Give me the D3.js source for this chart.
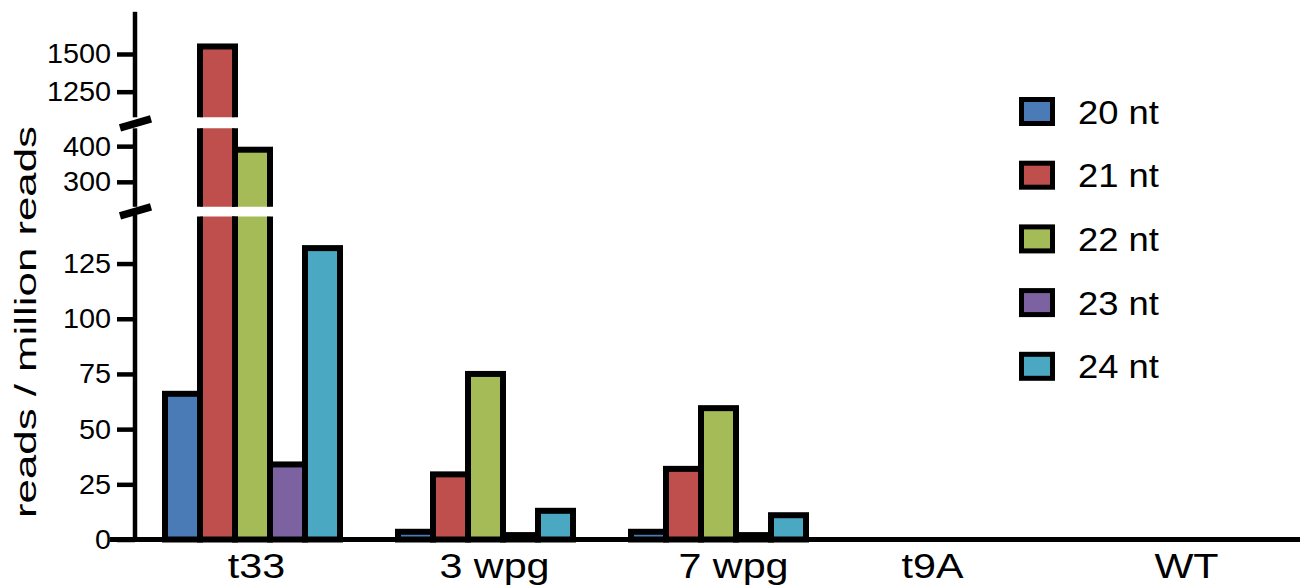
<!DOCTYPE html>
<html>
<head>
<meta charset="utf-8">
<script src="https://cdn.jsdelivr.net/npm/d3@7/dist/d3.min.js"></script>
<style>
  html, body { margin: 0; padding: 0; background: #fff; }
  svg { display: block; }
  text { font-family: "Liberation Sans", Arial, Helvetica, sans-serif; fill: #000; }
</style>
</head>
<body>
<svg id="chart" width="1306" height="587"></svg>
<script>
// ---------- data ----------
const categories = ["t33", "3 wpg", "7 wpg", "t9A", "WT"];
const seriesNames = ["20 nt", "21 nt", "22 nt", "23 nt", "24 nt"];
const nt20 = [66, 3.5, 3.5, 0, 0];
const nt21 = [1550, 29.5, 32, 0, 0];
const nt22 = [390, 75, 59.5, 0, 0];
const nt23 = [34, 2, 2, 0, 0];
const nt24 = [132, 13, 11, 0, 0];
const seriesColors = ["#4a7bb7", "#be4f4c", "#a4bb57", "#7d62a1", "#4aa8c2"];
const ticksLow = [0, 25, 50, 75, 100, 125];
const ticksMid = [300, 400];
const ticksHigh = [1250, 1500];
const yTitle = "reads / million reads";

const seriesValues = [nt20, nt21, nt22, nt23, nt24];

// ---------- layout ----------
const svg = d3.select("#chart");
const axisX = 135;
const baseY = 539.5;
const labelShift = [4, 9, 15, -19, 2];   // small horizontal nudges of category labels (layout)

// three y segments (broken axis)
const segments = [
  { domain: [0, 147],     range: [baseY, 215],   clip: [216.5, 560],   ticks: ticksLow },
  { domain: [230, 450],   range: [206.8, 128.3], clip: [128.3, 206.8], ticks: ticksMid },
  { domain: [1080, 1780], range: [117.3, 11.8],  clip: [0, 117.3],     ticks: ticksHigh }
];
segments.forEach(s => { s.y = d3.scaleLinear().domain(s.domain).range(s.range); });

const x0 = d3.scaleBand().domain(categories).range([136, 1301]).paddingInner(0).paddingOuter(0);
const x1 = d3.scaleBand().domain(seriesNames).range([-87.5, 87.5]).padding(0);

const defs = svg.append("defs");
segments.forEach((s, i) => {
  defs.append("clipPath").attr("id", "clip" + i)
    .append("rect").attr("x", 0).attr("width", 1306)
    .attr("y", s.clip[0]).attr("height", s.clip[1] - s.clip[0]);
});

// flatten bar data
const bars = [];
categories.forEach((c, ci) => {
  seriesNames.forEach((n, si) => {
    const v = seriesValues[si][ci];
    if (v > 0) bars.push({ cat: c, series: n, value: v, color: seriesColors[si] });
  });
});

// ---------- bars ----------
segments.forEach((s, i) => {
  const g = svg.append("g").attr("clip-path", `url(#clip${i})`);
  const inSeg = bars.filter(b => b.value > s.domain[0]);
  const cap = v => Math.min(v, s.domain[1] + (s.domain[1] - s.domain[0]));
  g.selectAll("rect").data(inSeg).enter().append("rect")
    .attr("x", d => x0(d.cat) + x0.bandwidth() / 2 + x1(d.series))
    .attr("width", x1.bandwidth())
    .attr("y", d => s.y(cap(d.value)))
    .attr("height", d => (i === 0 ? s.y(s.domain[0]) : s.y(s.domain[0]) + 20) - s.y(cap(d.value)))
    .attr("fill", d => d.color)
    .attr("stroke", "#000")
    .attr("stroke-width", 6)
    .attr("stroke-linejoin", "miter");
});

// ---------- y axis segments ----------
const tickSX = 1.03;
segments.forEach((s, i) => {
  const ax = d3.axisLeft(s.y).tickValues(s.ticks).tickSize(18).tickPadding(6).tickFormat(d3.format("d"));
  const g = svg.append("g").attr("transform", `translate(${axisX},0)`).call(ax);
  g.select(".domain").remove();
  g.selectAll(".tick line").attr("stroke", "#000").attr("stroke-width", 4.5);
  g.selectAll(".tick text")
    .attr("font-size", 28)
    .attr("font-family", "Liberation Sans, Arial, sans-serif")
    .attr("fill", "#000")
    .attr("x", -24 / tickSX)
    .attr("transform", `scale(${tickSX},1)`);
  const top = s.range[1], bot = s.range[0];
  svg.append("line")
    .attr("x1", axisX).attr("x2", axisX)
    .attr("y1", i === 0 ? bot + 2 : bot).attr("y2", top)
    .attr("stroke", "#000").attr("stroke-width", 4.5);
});

// break marks
const breakYs = [(segments[0].range[1] + segments[1].range[0]) / 2, (segments[1].range[1] + segments[2].range[0]) / 2];
breakYs.forEach(by => {
  svg.append("line")
    .attr("x1", axisX - 15).attr("y1", by + 5)
    .attr("x2", axisX + 16).attr("y2", by - 4)
    .attr("stroke", "#000").attr("stroke-width", 7.5);
});

// ---------- x axis ----------
const xAxis = d3.axisBottom(x0).tickSize(0).tickPadding(14);
const gx = svg.append("g").attr("transform", `translate(0,${baseY})`).call(xAxis);
gx.select(".domain").remove();
gx.selectAll(".tick text")
  .attr("font-size", 35)
  .attr("font-family", "Liberation Sans, Arial, sans-serif")
  .attr("fill", "#000")
  .attr("transform", (d, i) => `translate(${labelShift[i]},0) scale(1.18,1)`);
svg.append("line")
  .attr("x1", 110).attr("x2", 1300)
  .attr("y1", baseY).attr("y2", baseY)
  .attr("stroke", "#000").attr("stroke-width", 5);

// ---------- y title ----------
svg.append("text")
  .attr("transform", `translate(36,322) rotate(-90)`)
  .attr("text-anchor", "middle")
  .attr("font-size", 29)
  .attr("textLength", 392)
  .attr("lengthAdjust", "spacingAndGlyphs")
  .text(yTitle);

// ---------- legend ----------
const leg = svg.append("g");
const legRows = leg.selectAll("g").data(seriesNames).enter().append("g")
  .attr("transform", (d, i) => `translate(1021.5,${111.5 + i * 63.7})`);
legRows.append("rect")
  .attr("x", 0).attr("y", -12).attr("width", 31).attr("height", 24)
  .attr("fill", (d, i) => seriesColors[i])
  .attr("stroke", "#000").attr("stroke-width", 5);
legRows.append("text")
  .attr("transform", "translate(56.5,12) scale(1.07,1)")
  .attr("font-size", 34)
  .text(d => d);
</script>
</body>
</html>
